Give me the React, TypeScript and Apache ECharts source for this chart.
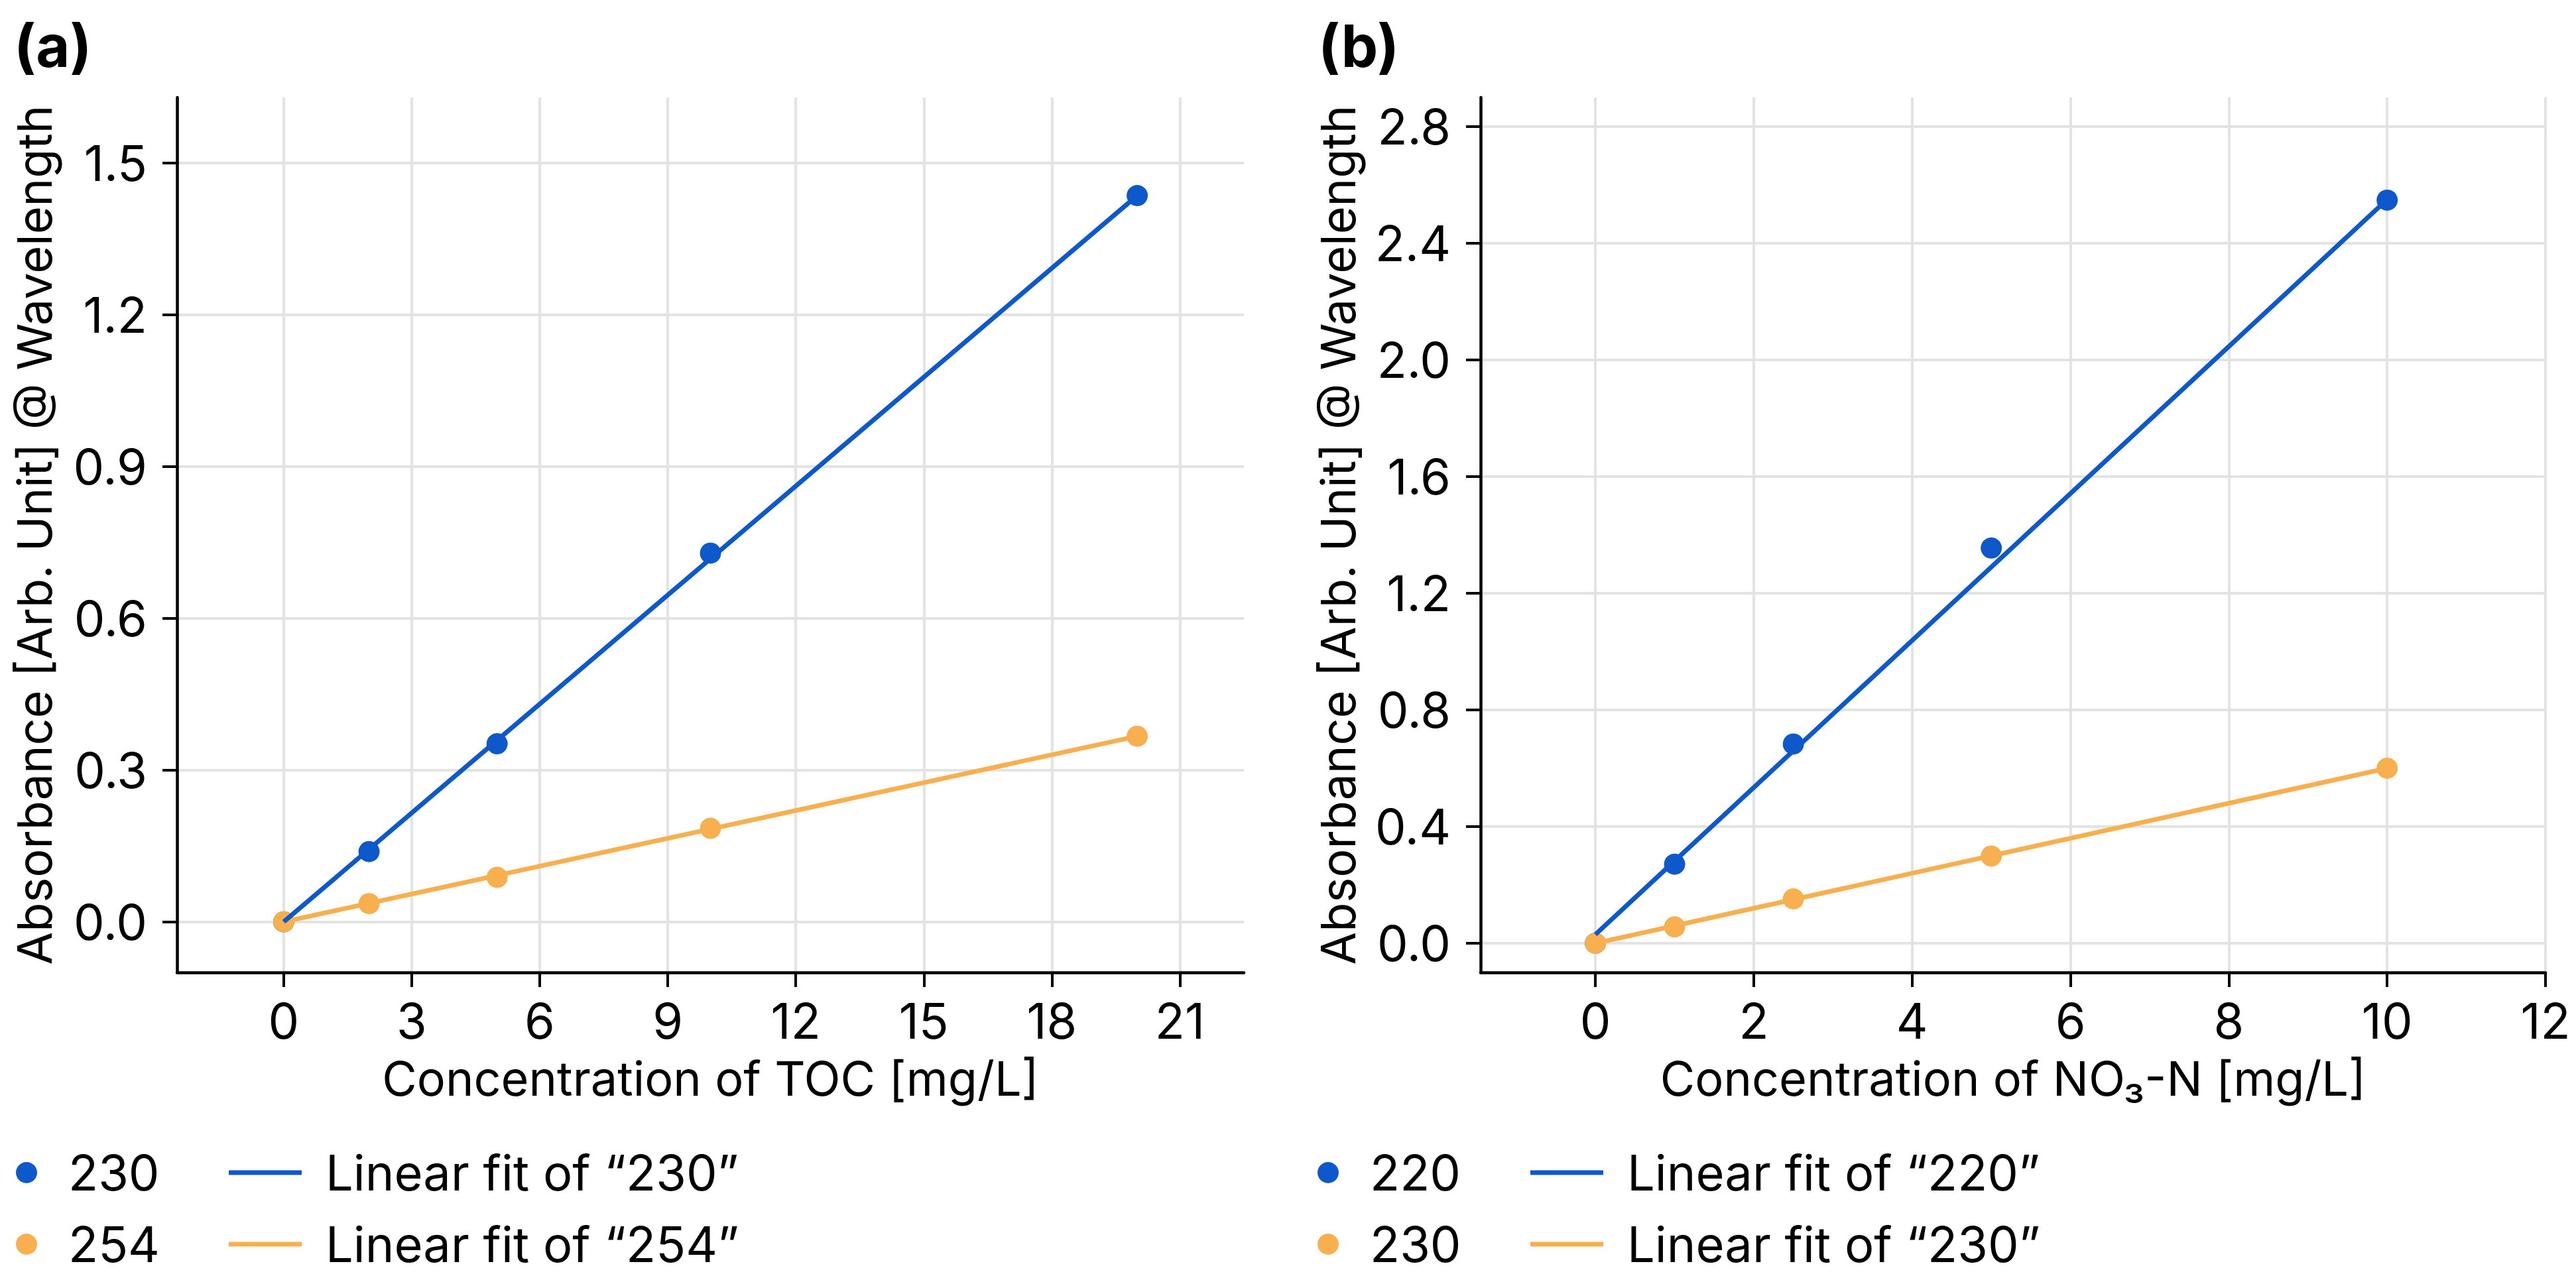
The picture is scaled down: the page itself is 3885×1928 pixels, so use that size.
import React, { useEffect, useRef } from 'react';
import * as echarts from 'echarts';

// ---- Panel (a): TOC ----
const tocConc = [0, 2, 5, 10, 20];
const abs230a = [0, 0.139, 0.352, 0.729, 1.436];
const abs254a = [0, 0.036, 0.088, 0.185, 0.367];
const fitXa = [0, 20];
const fit230a = [0, 1.436];
const fit254a = [0, 0.367];
const xTicksA = [0, 3, 6, 9, 12, 15, 18, 21];
const yTicksA = [0, 0.3, 0.6, 0.9, 1.2, 1.5];
const legendPointsA = ['230', '254'];
const legendFitsA = ['Linear fit of \u201C230\u201D', 'Linear fit of \u201C254\u201D'];

// ---- Panel (b): NO3-N ----
const no3Conc = [0, 1, 2.5, 5, 10];
const abs220b = [0, 0.271, 0.683, 1.355, 2.548];
const abs230b = [0, 0.056, 0.152, 0.299, 0.6];
const fitXb = [0, 10];
const fit220b = [0.03, 2.55];
const fit230b = [0, 0.6];
const xTicksB = [0, 2, 4, 6, 8, 10, 12];
const yTicksB = [0, 0.4, 0.8, 1.2, 1.6, 2.0, 2.4, 2.8];
const legendPointsB = ['220', '230'];
const legendFitsB = ['Linear fit of \u201C220\u201D', 'Linear fit of \u201C230\u201D'];

const BLUE = '#0D58CB';
const ORANGE = '#F8AF4F';
const FONT = 'Inter';

const zip = (xs: number[], ys: number[]) => xs.map((x, i) => [x, ys[i]]);

function axisCommon(ticks: number[], isY: boolean) {
  return {
    type: 'value',
    axisLine: { show: true, onZero: false, lineStyle: { color: '#000', width: 4.5 } },
    axisTick: { show: true, length: 22, customValues: ticks, lineStyle: { color: '#000', width: 4 } },
    axisLabel: {
      customValues: ticks,
      margin: isY ? 45 : 36,
      fontSize: 74,
      fontFamily: FONT,
      color: '#000',
      formatter: isY ? (v: number) => v.toFixed(1) : (v: number) => String(v),
    },
    splitLine: { show: true, lineStyle: { color: '#e3e3e3', width: 4 } },
    nameLocation: 'middle',
    nameTextStyle: { fontSize: 72, fontFamily: FONT, color: '#000' },
  };
}

function scatter(name: string, xs: number[], ys: number[], color: string, idx: number) {
  return {
    type: 'scatter',
    name,
    xAxisIndex: idx,
    yAxisIndex: idx,
    symbol: 'circle',
    symbolSize: 32,
    itemStyle: { color, opacity: 1 },
    data: zip(xs, ys),
  };
}

function fitLine(name: string, xs: number[], ys: number[], color: string, idx: number) {
  return {
    type: 'line',
    name,
    xAxisIndex: idx,
    yAxisIndex: idx,
    showSymbol: false,
    symbol: 'none',
    itemStyle: { color },
    lineStyle: { color, width: 7 },
    data: zip(xs, ys),
  };
}

const ROWS = [1769, 1877];

function legendGraphics(x0: number, points: string[], fits: string[]) {
  const colors = [BLUE, ORANGE];
  const els: any[] = [];
  ROWS.forEach((cy, i) => {
    els.push({ type: 'circle', shape: { cx: x0, cy, r: 16 }, style: { fill: colors[i] } });
    els.push({
      type: 'text', x: x0 + 63, y: cy,
      style: { text: points[i], fontSize: 74, fontFamily: FONT, fill: '#000', verticalAlign: 'middle' },
    });
    els.push({ type: 'rect', shape: { x: x0 + 305, y: cy - 3.5, width: 110, height: 7 }, style: { fill: colors[i] } });
    els.push({
      type: 'text', x: x0 + 451, y: cy,
      style: { text: fits[i], fontSize: 74, fontFamily: FONT, fill: '#000', verticalAlign: 'middle' },
    });
  });
  return els;
}

export default function App() {
  const ref = useRef<HTMLDivElement>(null);
  useEffect(() => {
    if (!ref.current) return;
    const chart = echarts.init(ref.current, null, { renderer: 'svg' });
    chart.setOption({
      animation: false,
      backgroundColor: '#fff',
      grid: [
        { left: 267, top: 147, width: 1609, height: 1320 },
        { left: 2233, top: 147, width: 1606, height: 1320 },
      ],
      xAxis: [
        { ...axisCommon(xTicksA, false), gridIndex: 0, min: -2.5, max: 22.5, name: 'Concentration of TOC [mg/L]', nameGap: 123 },
        { ...axisCommon(xTicksB, false), gridIndex: 1, min: -1.45, max: 12, name: 'Concentration of NO\u2083-N [mg/L]', nameGap: 123 },
      ],
      yAxis: [
        { ...axisCommon(yTicksA, true), gridIndex: 0, min: -0.1, max: 1.63, name: 'Absorbance [Arb. Unit] @ Wavelength', nameGap: 180 },
        { ...axisCommon(yTicksB, true), gridIndex: 1, min: -0.1, max: 2.9, name: 'Absorbance [Arb. Unit] @ Wavelength', nameGap: 180 },
      ],
      graphic: [
        { type: 'text', x: 21, y: 69, style: { text: '(a)', fontSize: 88, fontWeight: 'bold', fontFamily: FONT, fill: '#000', verticalAlign: 'middle' } },
        { type: 'text', x: 1988, y: 69, style: { text: '(b)', fontSize: 88, fontWeight: 'bold', fontFamily: FONT, fill: '#000', verticalAlign: 'middle' } },
        ...legendGraphics(40, legendPointsA, legendFitsA),
        ...legendGraphics(2003, legendPointsB, legendFitsB),
      ],
      series: [
        scatter('230', tocConc, abs230a, BLUE, 0),
        scatter('254', tocConc, abs254a, ORANGE, 0),
        fitLine(legendFitsA[1], fitXa, fit254a, ORANGE, 0),
        fitLine(legendFitsA[0], fitXa, fit230a, BLUE, 0),
        scatter('220', no3Conc, abs220b, BLUE, 1),
        scatter('230 (b)', no3Conc, abs230b, ORANGE, 1),
        fitLine('fit 230 (b)', fitXb, fit230b, ORANGE, 1),
        fitLine('fit 220 (b)', fitXb, fit220b, BLUE, 1),
      ],
    });
    return () => chart.dispose();
  }, []);
  return (
    <div
      ref={ref}
      style={{ position: 'fixed', left: 0, top: 0, width: 3885, height: 1928, background: '#fff' }}
    />
  );
}
